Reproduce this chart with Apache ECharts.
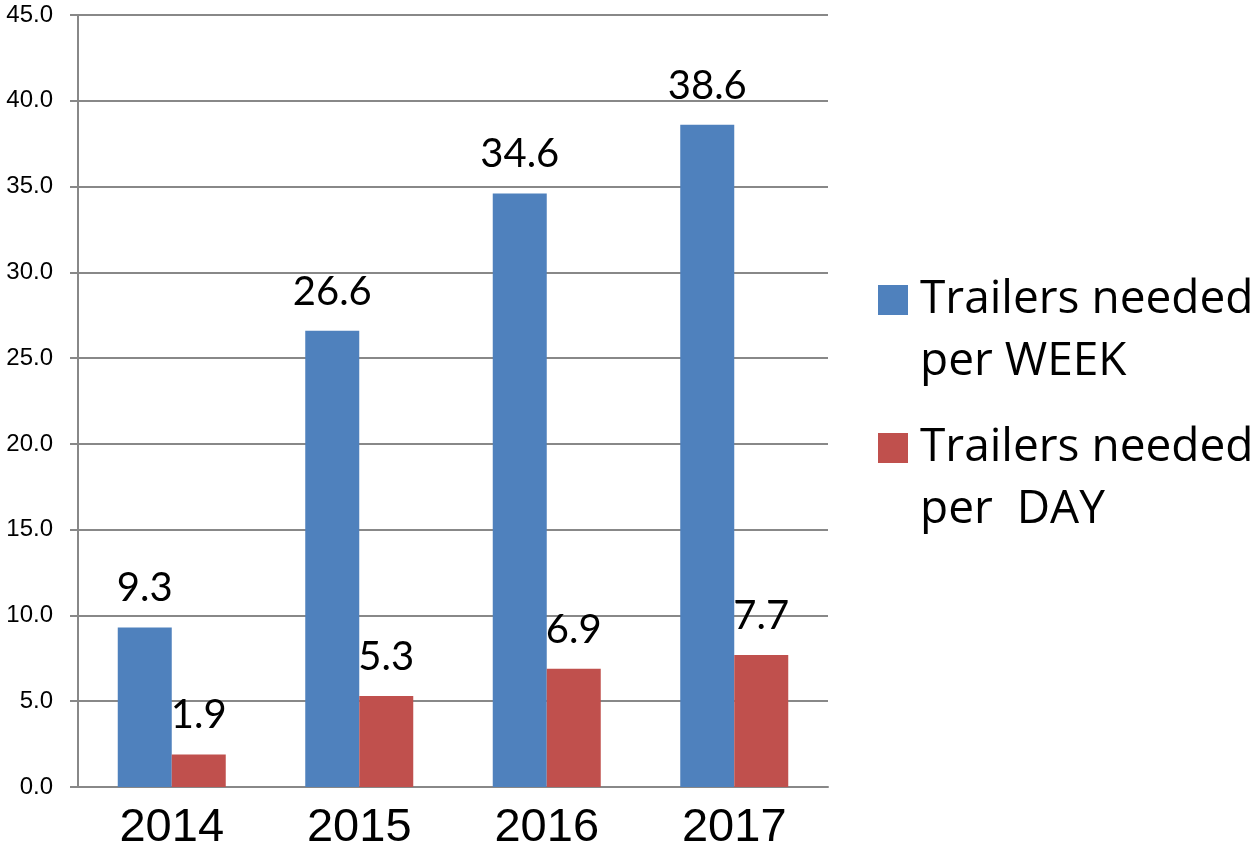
<!DOCTYPE html>
<html>
<head>
<meta charset="utf-8">
<script src="https://cdn.jsdelivr.net/npm/echarts@6/dist/echarts.min.js"></script>
<style>
  html, body { margin: 0; padding: 0; background: #fff; }
  #chart { width: 1257px; height: 847px; }
</style>
</head>
<body>
<div id="chart"></div>
<script>
// chart data
var years = ['2014', '2015', '2016', '2017'];
var perWeek = [9.3, 26.6, 34.6, 38.6];
var perDay = [1.9, 5.3, 6.9, 7.7];
var seriesNames = ['Trailers needed\nper WEEK', 'Trailers needed\nper  DAY'];

function loadTrailerBar() {
    var myChart = echarts.init(document.getElementById('chart'));
    var labelStyle = {
        show: true,
        position: 'top',
        distance: 19,
        fontFamily: 'Lato',
        fontSize: 40,
        color: '#000',
        formatter: function (p) {
            return p.value.toFixed(1);
        }
    };
    var option = {
        animation: false,
        grid: {left: 78, right: 429, top: 15, bottom: 60, outerBoundsMode: 'none'},
        legend: {
            orient: 'vertical',
            left: 873,
            top: 202,
            itemWidth: 30,
            itemHeight: 30,
            itemGap: -38,
            icon: 'rect',
            data: seriesNames,
            // blank first line keeps the square next to the first text line
            formatter: function (name) {
                return ' \n' + name;
            },
            textStyle: {
                fontFamily: 'Open Sans',
                fontSize: 46,
                lineHeight: 62,
                color: '#000',
                padding: [0, 0, 0, 7]
            }
        },
        xAxis: {
            type: 'category',
            data: years,
            axisLine: {lineStyle: {color: '#888', width: 2}},
            axisTick: {show: false},
            axisLabel: {
                fontFamily: 'Liberation Sans',
                fontSize: 47,
                color: '#000',
                margin: 18
            }
        },
        yAxis: {
            type: 'value',
            min: 0,
            max: 45,
            interval: 5,
            axisLine: {show: true, lineStyle: {color: '#888', width: 2}},
            axisTick: {show: true, length: 8, lineStyle: {color: '#888', width: 2}},
            splitLine: {lineStyle: {color: '#888', width: 2}},
            axisLabel: {
                fontFamily: 'Liberation Sans',
                fontSize: 24,
                color: '#000',
                margin: 25,
                formatter: function (v) {
                    return v.toFixed(1);
                }
            }
        },
        series: [{
            name: seriesNames[0],
            type: 'bar',
            data: perWeek,
            barWidth: 54,
            barGap: '0%',
            itemStyle: {color: '#4F81BD'},
            label: labelStyle
        }, {
            name: seriesNames[1],
            type: 'bar',
            data: perDay,
            barWidth: 54,
            barGap: '0%',
            itemStyle: {color: '#C0504D'},
            label: labelStyle
        }]
    };
    myChart.setOption(option, true);
}

loadTrailerBar();
</script>
</body>
</html>
